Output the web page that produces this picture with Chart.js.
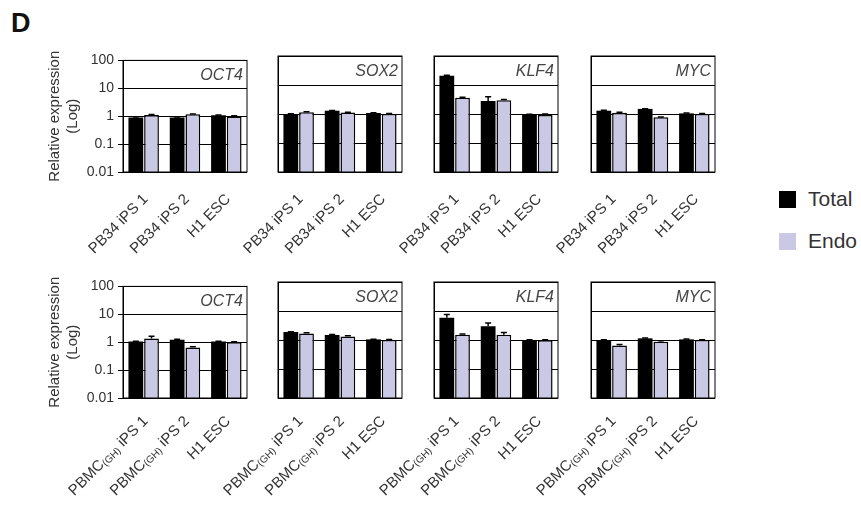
<!DOCTYPE html>
<html>
<head>
<meta charset="utf-8">
<script src="https://cdn.jsdelivr.net/npm/chart.js@4.4.1/dist/chart.umd.min.js"></script>
<style>
  body { margin: 0; background: #fff; width: 861px; height: 510px; position: relative; overflow: hidden;
         font-family: "Liberation Sans", Arial, sans-serif; }
  canvas { position: absolute; }
  #letra { position: absolute; left: 11px; top: 8px; font: bold 27px "Liberation Sans", Arial, sans-serif; color: #111; }
  .leyenda { position: absolute; left: 779px; height: 18px; display: flex; align-items: center;
             font-size: 21px; color: #333; }
  .cuadro { width: 17px; height: 17px; margin-right: 12px; }
</style>
</head>
<body>
<div id="letra">D</div>
<script>
// Categorías de cada fila
const gruposArriba = ["PB34 iPS 1", "PB34 iPS 2", "H1 ESC"];
const gruposAbajo = ["PBMC(GH) iPS 1", "PBMC(GH) iPS 2", "H1 ESC"];
const genes = ["OCT4", "SOX2", "KLF4", "MYC"];
const series = ["Total", "Endo"];
const coloresSeries = ["#000000", "#c9c9e6"];
const ticksY = [100, 10, 1, 0.1, 0.01];

// Fila de arriba (PB34), un array por gen: OCT4, SOX2, KLF4, MYC
const totalPB34 = [[0.9, 0.9, 1.08], [1.0, 1.3, 1.08], [21, 2.8, 0.95], [1.3, 1.5, 1.05]];
const endoPB34 = [[1.1, 1.17, 0.97], [1.14, 1.12, 1.0], [3.6, 3.0, 0.93], [1.1, 0.77, 1.0]];
const errTotalPB34 = [[0.04, 0.03, 0.03], [0.02, 0.02, 0.03], [0.5, 1.1, 0.04], [0.05, 0.02, 0.04]];
const errEndoPB34 = [[0.05, 0.04, 0.06], [0.06, 0.04, 0.04], [0.15, 0.15, 0.07], [0.06, 0.02, 0.04]];

// Fila de abajo (PBMC)
const totalPBMC = [[1.05, 1.23, 1.05], [1.89, 1.49, 1.05], [5.9, 3.0, 1.0], [1.0, 1.14, 1.05]];
const endoPBMC = [[1.37, 0.65, 1.0], [1.69, 1.33, 1.0], [1.52, 1.52, 0.98], [0.65, 0.87, 1.0]];
const errTotalPBMC = [[0.03, 0.05, 0.03], [0.03, 0.06, 0.02], [1.6, 0.85, 0.03], [0.02, 0.04, 0.03]];
const errEndoPBMC = [[0.25, 0.04, 0.04], [0.1, 0.06, 0.04], [0.1, 0.28, 0.03], [0.05, 0.07, 0.03]];

// Posición de los paneles
const izquierdas = [123, 278, 434, 591];
const arribas = [56, 282];
const anchoPanel = 124, altoPanel = 116;
const anchoEjeY = 90, altoEjeX = 110, padArriba = 8, padDerecha = 2;

const fuente = '"Liberation Sans", Arial, sans-serif';

// Barras de error, marco, título del gen y etiquetas giradas
const pluginPanel = {
  id: 'panel',
  afterDatasetsDraw(chart) {
    const { ctx, chartArea: a } = chart;
    const y = chart.scales.y;
    ctx.save();
    chart.data.datasets.forEach((ds, i) => {
      chart.getDatasetMeta(i).data.forEach((bar, j) => {
        const tope = y.getPixelForValue(ds.data[j] + ds.errores[j]);
        ctx.strokeStyle = '#000';
        ctx.lineWidth = 1.5;
        ctx.beginPath();
        ctx.moveTo(bar.x, bar.y);
        ctx.lineTo(bar.x, tope);
        ctx.moveTo(bar.x - 3, tope);
        ctx.lineTo(bar.x + 3, tope);
        ctx.stroke();
      });
    });
    ctx.strokeStyle = '#000';
    ctx.lineWidth = 1;
    ctx.strokeRect(a.left, a.top, a.width, a.height);

    // nombre del gen
    const opts = chart.options.plugins.panel;
    ctx.fillStyle = '#444';
    ctx.font = 'italic 16px ' + fuente;
    ctx.textAlign = 'right';
    ctx.textBaseline = 'middle';
    ctx.fillText(opts.gen, a.right - 4, (y.getPixelForValue(100) + y.getPixelForValue(10)) / 2 + 1);

    // etiquetas del eje x con subíndice
    const x = chart.scales.x;
    chart.data.labels.forEach((lab, i) => {
      const partes = lab.split('(GH)');
      const trozos = partes.length > 1
        ? [{ t: partes[0], s: false }, { t: '(GH)', s: true }, { t: partes[1], s: false }]
        : [{ t: lab, s: false }];
      ctx.save();
      ctx.translate(x.getPixelForTick(i) + 2, a.bottom + opts.bajada);
      ctx.rotate(-Math.PI / 4);
      ctx.fillStyle = '#333';
      ctx.textAlign = 'left';
      ctx.textBaseline = 'middle';
      let pos = 0;
      for (let k = trozos.length - 1; k >= 0; k--) {
        ctx.font = (trozos[k].s ? '10px ' : '15px ') + fuente;
        const w = ctx.measureText(trozos[k].t).width;
        pos -= w;
        ctx.fillText(trozos[k].t, pos, trozos[k].s ? 3 : 0);
      }
      ctx.restore();
    });
    ctx.restore();
  }
};

function crearPanel(fila, col) {
  const canvas = document.createElement('canvas');
  const ancho = anchoEjeY + anchoPanel + padDerecha;
  const alto = padArriba + altoPanel + altoEjeX;
  canvas.width = ancho;
  canvas.height = alto;
  canvas.style.left = (izquierdas[col] - anchoEjeY) + 'px';
  canvas.style.top = (arribas[fila] - padArriba) + 'px';
  document.body.appendChild(canvas);

  const total = fila === 0 ? totalPB34 : totalPBMC;
  const endo = fila === 0 ? endoPB34 : endoPBMC;
  const errT = fila === 0 ? errTotalPB34 : errTotalPBMC;
  const errE = fila === 0 ? errEndoPB34 : errEndoPBMC;
  const primera = col === 0;

  new Chart(canvas.getContext('2d'), {
    type: 'bar',
    data: {
      labels: fila === 0 ? gruposArriba : gruposAbajo,
      datasets: [
        { label: series[0], data: total[col], errores: errT[col], backgroundColor: coloresSeries[0],
          borderColor: '#000', borderWidth: 0 },
        { label: series[1], data: endo[col], errores: errE[col], backgroundColor: coloresSeries[1],
          borderColor: '#000', borderWidth: 1.5 }
      ]
    },
    options: {
      responsive: false,
      animation: false,
      devicePixelRatio: 1,
      layout: { padding: { top: padArriba, right: padDerecha, left: 0, bottom: 0 } },
      datasets: { bar: { categoryPercentage: 0.76, barPercentage: 0.94 } },
      plugins: {
        legend: { display: false },
        tooltip: { enabled: false },
        panel: { gen: genes[col], bajada: fila === 0 ? 25 : 21 }
      },
      scales: {
        x: {
          grid: { display: false },
          border: { display: false },
          ticks: { display: false },
          afterFit: s => { s.height = altoEjeX; }
        },
        y: {
          type: 'logarithmic',
          min: 0.01,
          max: 100,
          afterBuildTicks: s => { s.ticks = ticksY.map(v => ({ value: v })); },
          afterFit: s => { s.width = anchoEjeY; },
          grid: { color: '#000', lineWidth: 1, drawTicks: primera, tickLength: 5 },
          border: { color: '#000' },
          ticks: { display: primera, color: '#333', padding: 4, font: { size: 14, family: fuente },
                   callback: v => String(v) },
          title: { display: primera, text: ['Relative expression', '(Log)'], color: '#333',
                   font: { size: 15, family: fuente, lineHeight: 1.25 }, padding: { top: 12 } }
        }
      }
    },
    plugins: [pluginPanel]
  });
}

for (let f = 0; f < 2; f++) {
  for (let c = 0; c < 4; c++) crearPanel(f, c);
}

// Leyenda
const topsLeyenda = [190, 232];
series.forEach((nombre, i) => {
  const d = document.createElement('div');
  d.className = 'leyenda';
  d.style.top = topsLeyenda[i] + 'px';
  d.innerHTML = '<div class="cuadro" style="background:' + coloresSeries[i] + '"></div>' + nombre;
  document.body.appendChild(d);
});
</script>
</body>
</html>
